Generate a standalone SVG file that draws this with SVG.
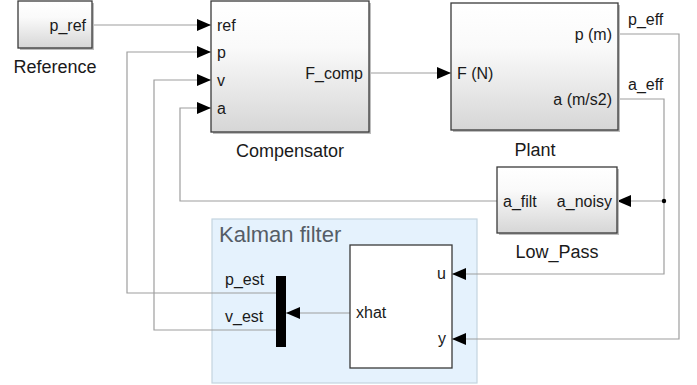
<svg xmlns="http://www.w3.org/2000/svg" width="697" height="385" viewBox="0 0 697 385">
<defs>
  <linearGradient id="blk" x1="0" y1="0" x2="0" y2="1">
    <stop offset="0" stop-color="#ffffff"/>
    <stop offset="0.35" stop-color="#fafafa"/>
    <stop offset="1" stop-color="#d6d6d6"/>
  </linearGradient>
  <marker id="arr" viewBox="0 0 14 12" refX="14" refY="6" markerWidth="14" markerHeight="12" orient="auto" markerUnits="userSpaceOnUse">
    <path d="M0,0 L14,6 L0,12 z" fill="#000"/>
  </marker>
  <style>
    .blk { fill: url(#blk); stroke: #3a3a3a; stroke-width: 1.3; }
    .shadow { fill: #bdbdbd; }
    .wire { fill: none; stroke: #9e9e9e; stroke-width: 1.2; marker-end: url(#arr); }
    .wire2 { fill: none; stroke: #9e9e9e; stroke-width: 1.2; }
    .port { font-family: "Liberation Sans", Arial, sans-serif; font-size: 16px; fill: #1a1a1a; }
    .name { font-family: "Liberation Sans", Arial, sans-serif; font-size: 18px; fill: #1a1a1a; text-anchor: middle; }
    .sig { font-family: "Liberation Sans", Arial, sans-serif; font-size: 16px; fill: #1a1a1a; }
  </style>
</defs>
<rect width="697" height="385" fill="#ffffff"/>

<g id="kalman_area">
  <rect x="212" y="219" width="265" height="164" fill="#e5f2fd" stroke="#c4d4e0" stroke-width="1.2"/>
  <text x="219" y="242" font-family="Liberation Sans, Arial, sans-serif" font-size="22" fill="#555d66">Kalman filter</text>
</g>

<g id="connectors">
  <path class="wire" d="M92,25 H211"/>
  <path class="wire" d="M369,73 H451"/>
  <path class="wire" d="M618,34 H679 V339 H452"/>
  <path class="wire" d="M618,99 H664 V201 H617"/>
  <path class="wire" d="M664,201 V274 H452"/>
  <path class="wire" d="M497,201 H180 V108 H211"/>
  <path class="wire" d="M350,313 H286"/>
  <path class="wire" d="M276,293 H127 V52 H211"/>
  <path class="wire" d="M276,330 H154 V80 H211"/>
  <circle cx="664" cy="201" r="2.2" fill="#000"/>
  <text class="sig" x="628" y="25">p_eff</text>
  <text class="sig" x="628" y="90">a_eff</text>
  <text class="sig" x="225" y="285">p_est</text>
  <text class="sig" x="225" y="322">v_est</text>
</g>

<g id="reference">
  <rect class="shadow" x="20" y="3" width="74" height="47"/>
  <rect class="blk" x="18" y="1" width="74" height="47"/>
  <text class="port" x="86" y="31" text-anchor="end">p_ref</text>
  <text class="name" x="55" y="73">Reference</text>
</g>

<g id="compensator">
  <rect class="shadow" x="213" y="3" width="158" height="131"/>
  <rect class="blk" x="211" y="1" width="158" height="131"/>
  <text class="port" x="217" y="31">ref</text>
  <text class="port" x="217" y="58">p</text>
  <text class="port" x="217" y="86">v</text>
  <text class="port" x="217" y="114">a</text>
  <text class="port" x="363" y="79" text-anchor="end">F_comp</text>
  <text class="name" x="290" y="157">Compensator</text>
</g>

<g id="plant">
  <rect class="shadow" x="453" y="5" width="167" height="127"/>
  <rect class="blk" x="451" y="3" width="167" height="127"/>
  <text class="port" x="457" y="79">F (N)</text>
  <text class="port" x="612" y="40" text-anchor="end">p (m)</text>
  <text class="port" x="612" y="105" text-anchor="end">a (m/s2)</text>
  <text class="name" x="535" y="156">Plant</text>
</g>

<g id="low_pass">
  <rect class="shadow" x="499" y="169" width="120" height="66"/>
  <rect class="blk" x="497" y="167" width="120" height="66"/>
  <text class="port" x="503" y="207">a_filt</text>
  <text class="port" x="612" y="207" text-anchor="end">a_noisy</text>
  <text class="name" x="557" y="258">Low_Pass</text>
</g>

<g id="kalman_block">
  <rect x="350" y="245" width="102" height="123" fill="#ffffff" stroke="#3a3a3a" stroke-width="1.3"/>
  <text class="port" x="446" y="279" text-anchor="end">u</text>
  <text class="port" x="446" y="344" text-anchor="end">y</text>
  <text class="port" x="356" y="318">xhat</text>
</g>

<g id="demux">
  <rect x="276" y="276" width="10" height="71" fill="#000"/>
</g>
</svg>
